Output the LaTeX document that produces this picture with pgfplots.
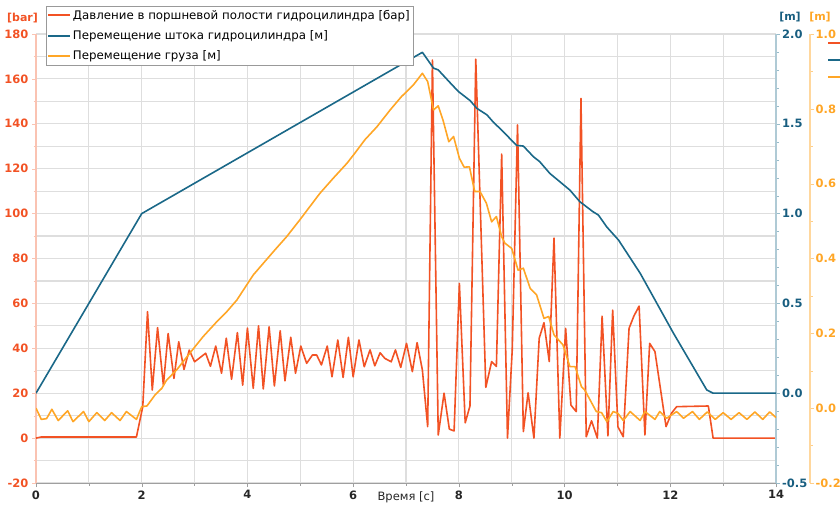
\documentclass[border=0pt]{standalone}
\usepackage{fontspec}
\setmainfont{DejaVu Sans}
\usepackage{pgfplots}
\pgfplotsset{compat=1.18}
\usetikzlibrary{calc}

\definecolor{cRed}{RGB}{242,82,36}
\definecolor{cBlue}{RGB}{26,104,136}
\definecolor{cBlueLbl}{RGB}{24,94,128}
\definecolor{cOrange}{RGB}{255,166,38}
\definecolor{cGrid}{RGB}{222,222,222}

\pgfplotsset{
  base/.style={
    scale only axis, width=740pt, height=449pt,
    at={(0pt,0pt)}, anchor=south west,
    xmin=0, xmax=14,
    /pgf/number format/assume math mode=true,
    tick label style={font=\fontsize{11.5}{13}\selectfont\bfseries},
    tick align=outside,
    major tick length=4pt, minor tick length=2.5pt,
  },
  dat/.style={line width=1.6pt, line join=round},
}

\begin{document}
\begin{tikzpicture}

% left axis: pressure
\begin{axis}[base,
  ymin=-20, ymax=180,
  ytick={-20,0,...,180}, minor y tick num=1,
  xtick={0,2,...,14}, minor x tick num=1,
  xmajorgrids=true, xminorgrids=true, ymajorgrids=true, yminorgrids=true,
  major grid style={draw=cGrid, line width=1.2pt},
  minor grid style={draw=cGrid, line width=1.2pt},
  axis x line*=bottom, axis y line*=left,
  x axis line style={gray!75, line width=1pt},
  y axis line style={cRed!35, line width=1.2pt},
  xtick style={gray!75}, ytick style={cRed!35},
  yticklabel style={cRed},
  xticklabel style={black!85},
  xlabel={Время [с]},
  xlabel style={at={(rel axis cs:0.5,0)}, anchor=north, yshift=-5pt,
    font=\fontsize{11.5}{13}\selectfont, black!85},
]
\coordinate (ll) at (rel axis cs:0,0);
\coordinate (ur) at (rel axis cs:1,1);
\coordinate (ul) at (rel axis cs:0,1);
\addplot[dat, cRed] coordinates {
(0,0) (0.1,0.5) (1.9,0.5) (2.02,14) (2.11,56.3) (2.2,21.4) (2.3,49.2)
(2.41,23.6) (2.5,46.6) (2.61,26.6) (2.7,42.9) (2.8,30.6) (2.9,39.2)
(3.0,34) (3.1,35.8) (3.21,37.8) (3.3,32) (3.4,41) (3.51,28.9) (3.6,44.5)
(3.7,26.2) (3.81,47) (3.91,23.6) (4.0,49) (4.11,22.2) (4.21,50) (4.3,21.9)
(4.41,49.6) (4.51,23.2) (4.62,47.8) (4.71,25.5) (4.82,44.9) (4.91,28.9)
(5.01,41) (5.12,33.3) (5.23,37) (5.31,37) (5.4,32.6) (5.51,41) (5.6,27.3)
(5.71,43.7) (5.81,27) (5.91,44.9) (6.0,27.3) (6.11,43.7) (6.21,31.8)
(6.32,39.3) (6.41,32.2) (6.51,38) (6.6,35.5) (6.72,34) (6.8,39.3)
(6.9,31.5) (7.01,42.2) (7.12,29.6) (7.21,42.5) (7.31,30.3) (7.41,5.1)
(7.5,168.4) (7.61,1.4) (7.72,20) (7.82,4) (7.91,3.2) (8.01,68.9)
(8.12,6.8) (8.21,14.3) (8.32,168.8) (8.51,22.6) (8.62,34.1) (8.71,31.9)
(8.81,126.5) (8.92,0) (9.01,39.3) (9.11,139.5) (9.22,2.9) (9.31,20.2)
(9.42,0) (9.52,44.5) (9.61,51.4) (9.71,34.1) (9.8,89.1) (9.91,0)
(10.02,48.9) (10.12,14.7) (10.22,11.8) (10.31,151.3) (10.41,0.6)
(10.51,7.7) (10.62,0) (10.71,54.3) (10.82,1) (10.91,57) (11.01,5)
(11.11,0.6) (11.22,48.9) (11.31,54.3) (11.41,58.8) (11.52,1.4)
(11.61,42.2) (11.71,38.5) (11.92,5.1) (12.02,11) (12.12,14) (12.72,14.3)
(12.81,0) (14,0)
};
\end{axis}

% right axis: rod displacement
\begin{axis}[base,
  ymin=-0.5, ymax=2,
  ytick={-0.5,0,0.5,1,1.5,2}, minor y tick num=4,
  axis y line*=right, axis x line=none,
  y axis line style={cBlue!35, line width=1.8pt},
  ytick style={cBlue!45},
  yticklabel style={cBlueLbl, inner xsep=2pt, /pgf/number format/.cd, fixed, fixed zerofill, precision=1},
]
\addplot[dat, cBlue] coordinates {
(0,0) (2,1.0) (7.31,1.898) (7.52,1.81) (7.61,1.80) (7.83,1.73) (7.99,1.68)
(8.21,1.63) (8.34,1.586) (8.53,1.55) (8.65,1.51) (8.84,1.456) (9.09,1.38)
(9.22,1.376) (9.41,1.317) (9.53,1.289) (9.72,1.224) (10.1,1.131)
(10.29,1.066) (10.54,1.01) (10.64,0.992) (10.8,0.925) (11.02,0.853)
(11.43,0.668) (12.06,0.334) (12.69,0.018) (12.81,0) (14,0)
};
\end{axis}

% load displacement (data + legend)
\begin{axis}[base,
  ymin=-0.2, ymax=1,
  axis lines=none,
  legend style={at={(rel axis cs:0.0135,1.062)}, anchor=north west,
    draw=gray!80, fill=white, font=\fontsize{11.8}{14}\selectfont,
    inner xsep=1pt, inner ysep=1.5pt, row sep=6pt,
    cells={anchor=west}},
  legend image code/.code={\draw[#1, line width=1.8pt] (0pt,0pt) -- (22pt,0pt);},
]
\addplot[dat, cOrange, forget plot] coordinates {
(0,0) (0.1,-0.03) (0.2,-0.028) (0.3,-0.003) (0.42,-0.033) (0.6,-0.007)
(0.7,-0.036) (0.9,-0.009) (1.0,-0.036) (1.15,-0.012) (1.3,-0.033)
(1.43,-0.012) (1.59,-0.033) (1.71,-0.009) (1.9,-0.03) (2.0,0.004)
(2.1,0.006) (2.25,0.035) (2.38,0.053) (2.47,0.075) (2.66,0.102)
(2.91,0.147) (3.16,0.191) (3.42,0.231) (3.61,0.258) (3.8,0.289)
(4.11,0.356) (4.33,0.392) (4.52,0.423) (4.74,0.458) (4.99,0.503)
(5.37,0.574) (5.62,0.614) (5.88,0.654) (6.03,0.681) (6.22,0.717)
(6.45,0.752) (6.7,0.797) (6.91,0.832) (7.14,0.864) (7.31,0.895)
(7.41,0.873) (7.52,0.797) (7.61,0.808) (7.7,0.770) (7.81,0.712)
(7.9,0.726) (8.01,0.668) (8.1,0.644) (8.2,0.645) (8.3,0.579) (8.4,0.579)
(8.52,0.548) (8.62,0.498) (8.71,0.512) (8.81,0.458) (8.87,0.441)
(9.0,0.427) (9.12,0.369) (9.22,0.374) (9.35,0.320) (9.47,0.303)
(9.61,0.240) (9.7,0.245) (9.8,0.196) (9.97,0.169) (10.1,0.111)
(10.2,0.111) (10.32,0.057) (10.38,0.049) (10.6,-0.009) (10.7,-0.012)
(10.8,-0.036) (10.92,-0.009) (11.01,-0.014) (11.11,-0.033) (11.24,-0.009)
(11.43,-0.033) (11.52,-0.009) (11.71,-0.030) (11.8,-0.009) (11.93,-0.027)
(12.12,-0.009) (12.25,-0.027) (12.42,-0.009) (12.55,-0.03) (12.7,-0.01)
(12.85,-0.03) (13.0,-0.012) (13.15,-0.03) (13.3,-0.012) (13.45,-0.03)
(13.6,-0.01) (13.75,-0.03) (13.88,-0.01) (14,-0.025)
};
\addlegendimage{dat, cRed}
\addlegendimage{dat, cBlue}
\addlegendimage{dat, cOrange}
\legend{Давление в поршневой полости гидроцилиндра [бар],
        Перемещение штока гидроцилиндра [м],
        Перемещение груза [м]}
\end{axis}

% offset axis for load displacement
\begin{axis}[base, at={(34pt,0pt)},
  ymin=-0.2, ymax=1,
  ytick={-0.2,0,0.2,0.4,0.6,0.8,1}, minor y tick num=1,
  axis y line*=right, axis x line=none,
  y axis line style={cOrange!45, line width=1.2pt},
  ytick style={cOrange!55},
  yticklabel style={cOrange, inner xsep=1.5pt, /pgf/number format/.cd, fixed, fixed zerofill, precision=1},
]
\end{axis}

% unit labels above the axes
\node[cRed, font=\fontsize{11}{13}\selectfont\bfseries] at ($(ul)+(-13.5pt,16pt)$) {[bar]};
\node[cBlueLbl, font=\fontsize{11}{13}\selectfont\bfseries] at ($(ur)+(14pt,17pt)$) {[m]};
\node[cOrange, font=\fontsize{11}{13}\selectfont\bfseries] at ($(ur)+(44pt,17pt)$) {[m]};
% clipped legend marks at right edge
\draw[cRed, line width=1.6pt] ($(ur)+(52pt,-9pt)$) -- ++(16pt,0pt);
\draw[cBlue, line width=1.6pt] ($(ur)+(52pt,-26pt)$) -- ++(16pt,0pt);
\draw[cOrange, line width=1.6pt] ($(ur)+(52pt,-43pt)$) -- ++(16pt,0pt);

\pgfresetboundingbox
\path[use as bounding box] ($(ll)+(-36pt,-23pt)$) rectangle ($(ur)+(64pt,34pt)$);
\end{tikzpicture}
\end{document}
